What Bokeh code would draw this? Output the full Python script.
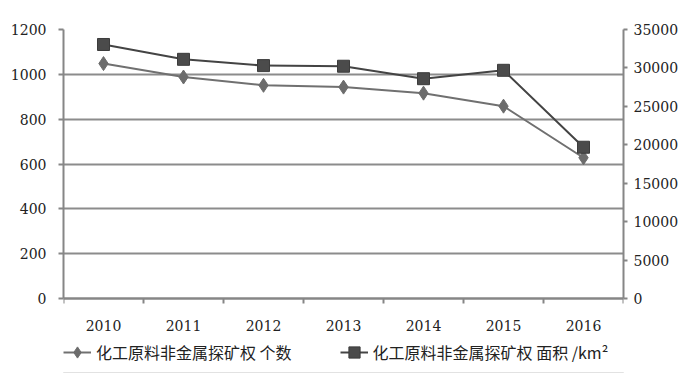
import numpy as np
from bokeh.plotting import figure
from bokeh.models import (Range1d, LinearAxis, FixedTicker, Legend, LegendItem)
from bokeh.embed import file_html
from bokeh.resources import INLINE

years = ["2010", "2011", "2012", "2013", "2014", "2015", "2016"]
count_vals = [1048, 988, 951, 943, 916, 858, 628]
area_vals = [33050, 31120, 30300, 30220, 28600, 29690, 19680]
left_ticks = [0, 200, 400, 600, 800, 1000, 1200]
right_ticks = [0, 5000, 10000, 15000, 20000, 25000, 30000, 35000]
label_count = "化工原料非金属探矿权 个数"
label_area = "化工原料非金属探矿权 面积 /km²"

AX = "#868686"
NUMFONT = "DejaVu Serif"
CJK = "Noto Sans CJK SC"

# layout (pixels): frame from y=29 to y=372, value axis spans y=29..298,
# the strip below 0 holds the year labels and the legend
W, H = 697, 376
TOP, BOT = 29, 4
AXIS_PX = 298 - TOP
EXTRA_PX = (H - BOT) - 298
LMAX, RMAX = left_ticks[-1], right_ticks[-1]
l_lo = -LMAX * EXTRA_PX / AXIS_PX
r_lo = -RMAX * EXTRA_PX / AXIS_PX

n = len(years)
xpos = [i + 0.5 for i in range(n)]  # category centres on an index scale

p = figure(width=W, height=H, x_range=Range1d(0, n), y_range=Range1d(l_lo, LMAX),
           output_backend="svg", toolbar_location=None,
           x_axis_location=None, y_axis_location=None,
           min_border_left=63, min_border_right=74, min_border_top=TOP, min_border_bottom=BOT)
p.outline_line_color = None
p.background_fill_color = "white"
p.border_fill_color = "white"
p.styles = {"outline": "2px solid #8a8a8a", "outline-offset": "-4px"}

p.extra_y_ranges = {"area": Range1d(r_lo, RMAX)}

p.xgrid.visible = False
p.ygrid.ticker = FixedTicker(ticks=left_ticks)
p.ygrid.grid_line_color = "#8c8c8c"
p.ygrid.grid_line_width = 2

ly = LinearAxis(ticker=FixedTicker(ticks=left_ticks), bounds=(0, LMAX))
ly.axis_line_color = AX
ly.axis_line_width = 2
ly.major_tick_line_color = AX
ly.major_tick_line_width = 2
ly.major_tick_out = 5
ly.major_tick_in = 0
ly.minor_tick_line_color = None
ly.major_label_standoff = 12
ly.major_label_text_font = NUMFONT
ly.major_label_text_font_size = "14px"
ly.major_label_text_color = "#222222"
p.add_layout(ly, "left")

ry = LinearAxis(y_range_name="area", ticker=FixedTicker(ticks=right_ticks), bounds=(0, RMAX))
ry.axis_line_color = AX
ry.axis_line_width = 2
ry.major_tick_line_color = AX
ry.major_tick_line_width = 2
ry.major_tick_out = 4
ry.major_tick_in = 0
ry.minor_tick_line_color = None
ry.major_label_standoff = 6
ry.major_label_text_font = NUMFONT
ry.major_label_text_font_size = "14px"
ry.major_label_text_color = "#222222"
p.add_layout(ry, "right")

bx = LinearAxis(ticker=FixedTicker(ticks=xpos, minor_ticks=list(range(n + 1))),
                fixed_location=0)
bx.major_label_overrides = {c: y for c, y in zip(xpos, years)}
bx.axis_line_color = AX
bx.axis_line_width = 2
bx.major_tick_line_color = None
bx.major_tick_out = 0
bx.major_tick_in = 0
bx.minor_tick_line_color = AX
bx.minor_tick_line_width = 2
bx.minor_tick_out = 5
bx.minor_tick_in = 0
bx.major_label_standoff = 16
bx.major_label_text_font = NUMFONT
bx.major_label_text_font_size = "14px"
bx.major_label_text_color = "#222222"
p.add_layout(bx, "below")

l1 = p.line(xpos, count_vals, line_color="#707070", line_width=2)
s1 = p.scatter(xpos, count_vals, marker="diamond", size=14,
               fill_color="#6c6c6c", line_color="#6c6c6c")
l2 = p.line(xpos, area_vals, y_range_name="area", line_color="#444444", line_width=2)
s2 = p.scatter(xpos, area_vals, y_range_name="area", marker="square", size=12,
               fill_color="#4b4b4b", line_color="#3c3c3c")

legend = Legend(items=[LegendItem(label=label_count, renderers=[l1, s1]),
                       LegendItem(label=label_area, renderers=[l2, s2])],
                location=(0, 6), orientation="horizontal")
legend.background_fill_alpha = 0
legend.border_line_color = None
legend.padding = 0
legend.margin = 0
legend.spacing = 48
legend.glyph_width = 28
legend.glyph_height = 28
legend.label_standoff = 5
legend.label_text_font = CJK
legend.label_text_font_size = "16px"
legend.label_text_color = "#222222"
p.add_layout(legend, "center")

open("out.html", "w").write(file_html(p, INLINE))
